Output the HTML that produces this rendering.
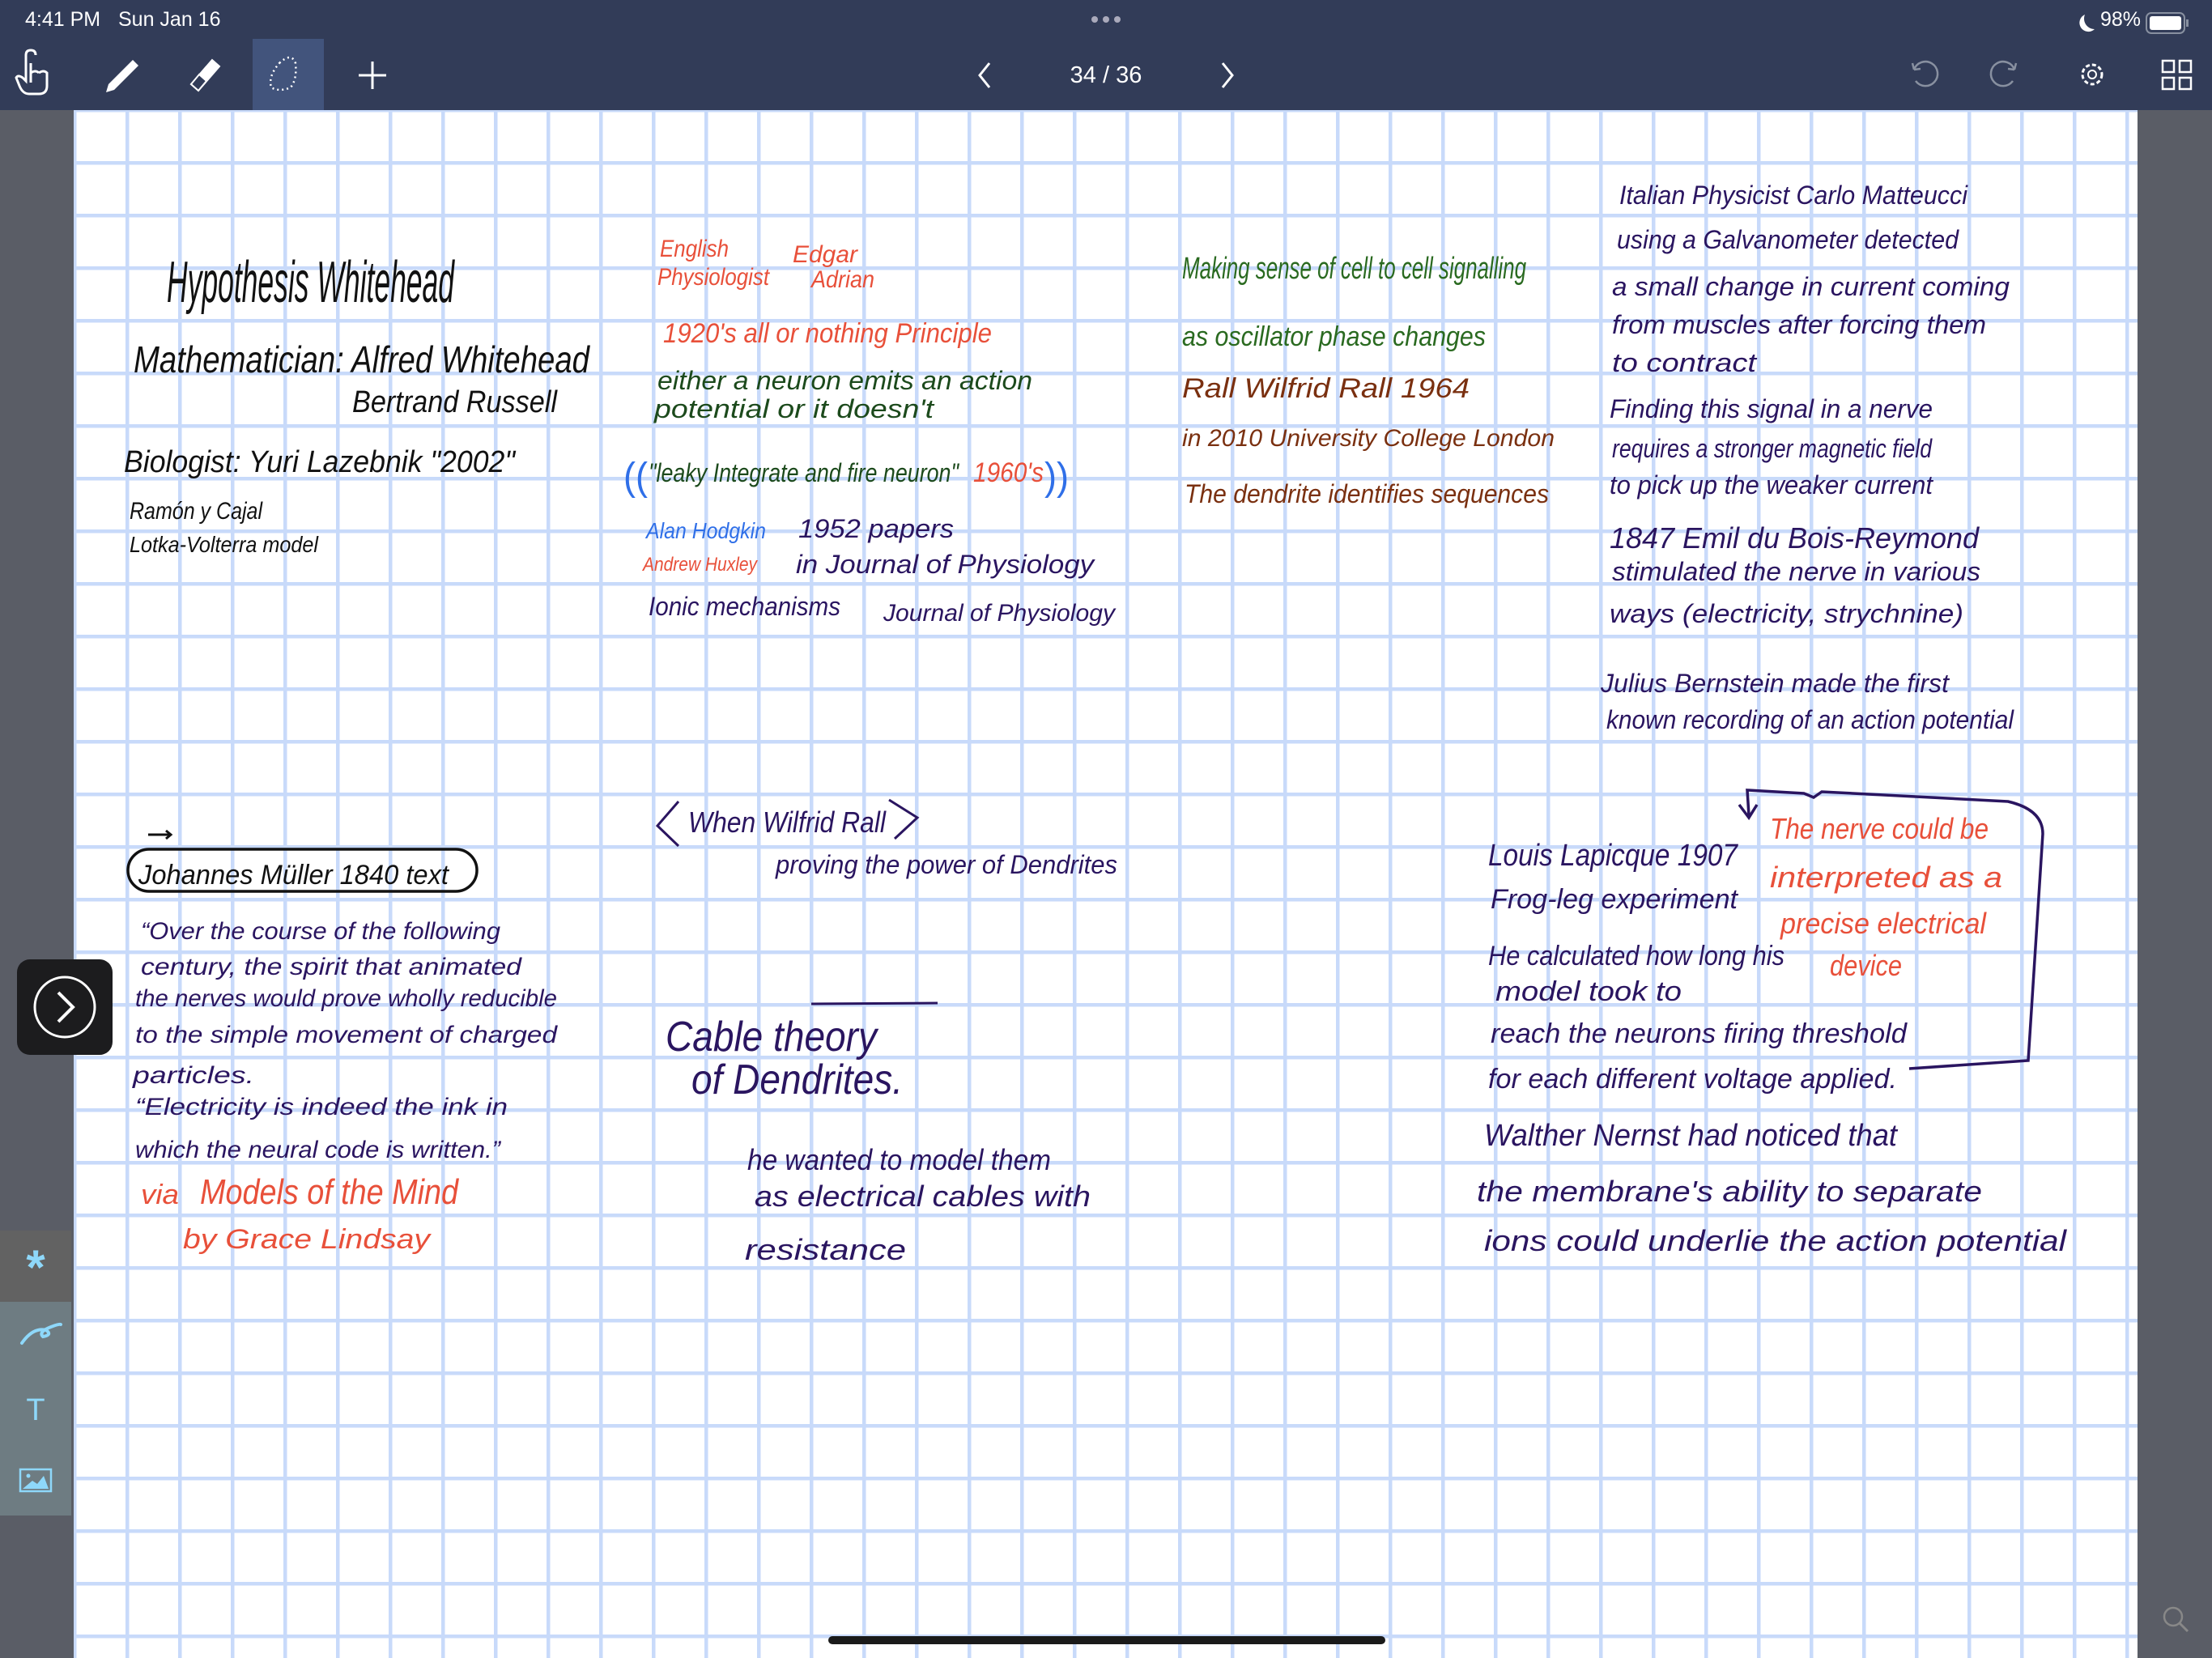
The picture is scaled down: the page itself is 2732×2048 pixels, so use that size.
<!DOCTYPE html>
<html><head><meta charset="utf-8"><style>
html,body{margin:0;padding:0;width:2732px;height:2048px;overflow:hidden;background:#5a5d66;}
svg{display:block}
text{font-family:"Liberation Sans","DejaVu Sans",sans-serif;}
</style></head><body>
<svg width="2732" height="2048" viewBox="0 0 2732 2048" xmlns="http://www.w3.org/2000/svg">
<defs>
<pattern id="g" x="157" y="201" width="65" height="65" patternUnits="userSpaceOnUse">
<rect x="0" y="0" width="65" height="65" fill="#fff"/>
<rect x="-2" y="0" width="4.5" height="65" fill="#c8dafa"/>
<rect x="0" y="-2" width="65" height="4.5" fill="#c8dafa"/>
<rect x="63" y="0" width="4" height="65" fill="#c8dafa"/>
<rect x="0" y="63" width="65" height="4" fill="#c8dafa"/>
</pattern>
</defs>
<rect x="0" y="0" width="2732" height="2048" fill="#5a5d66"/>
<rect x="91" y="136" width="2549" height="1912" fill="url(#g)"/>

<!-- top bar -->
<rect x="0" y="0" width="2732" height="136" fill="#323c58"/>
<rect x="312" y="48" width="88" height="88" fill="#42547c"/>
<text x="31" y="32" font-size="25" fill="#fff">4:41 PM</text>
<text x="146" y="32" font-size="25" fill="#fff">Sun Jan 16</text>
<circle cx="1352" cy="24" r="4" fill="#aab"/><circle cx="1366" cy="24" r="4" fill="#aab"/><circle cx="1380" cy="24" r="4" fill="#aab"/>
<path d="M2575 18 a11 11 0 1 0 12 18 a13 13 0 0 1 -12 -18z" fill="#fff"/>
<text x="2594" y="32" font-size="25" fill="#fff">98%</text>
<rect x="2651" y="16" width="47" height="25" rx="6" fill="none" stroke="#8890a0" stroke-width="2"/>
<rect x="2655" y="20" width="39" height="17" rx="3" fill="#fff"/>
<rect x="2700" y="24" width="3" height="9" fill="#8890a0"/>
<!-- hand -->
<path d="M38 78 v24 M38 90 q6 -4 10 0 M48 90 q6 -4 10 0 v16 q0 10 -10 10 h-12 q-8 0 -12 -10 l-4 -10 q2 -4 8 0 l4 4 v-32 q0 -6 6 -6 q6 0 6 6" fill="none" stroke="#fff" stroke-width="3"/>
<!-- pencil -->
<path d="M134 104 l30 -30 l7 7 l-30 30 l-10 3 z" fill="#fff"/>
<!-- eraser -->
<path d="M236 104 l26 -30 l9 8 l-26 30 z" fill="#fff" stroke="#fff" stroke-width="2"/>
<path d="M236 104 l10 -12 l9 8 l-10 12 z" fill="#323c58" stroke="#fff" stroke-width="2"/>
<!-- lasso -->
<path d="M345 78 q15 -14 20 0 q2 20 -6 30 q-14 6 -24 0 q-4 -14 10 -30" fill="none" stroke="#fff" stroke-width="2.5" stroke-dasharray="2 4"/>
<path d="M460 76 v34 M443 93 h34" stroke="#fff" stroke-width="3"/>
<path d="M1222 78 l-12 15 l12 15" fill="none" stroke="#fff" stroke-width="3"/>
<text x="1366" y="102" font-size="29" fill="#fff" text-anchor="middle">34 / 36</text>
<path d="M1510 78 l12 15 l-12 15" fill="none" stroke="#fff" stroke-width="3"/>
<path d="M2366 100 a15 15 0 1 0 -2 -14 M2364 86 l-2 -8 M2364 86 l8 -1" fill="none" stroke="#8890a0" stroke-width="2.5"/>
<path d="M2486 100 a15 15 0 1 1 2 -14 M2488 86 l2 -8 M2488 86 l-8 -1" fill="none" stroke="#8890a0" stroke-width="2.5"/>
<circle cx="2584" cy="92" r="12" fill="none" stroke="#fff" stroke-width="3" stroke-dasharray="5 3"/><circle cx="2584" cy="92" r="5" fill="none" stroke="#fff" stroke-width="2"/>
<rect x="2671" y="75" width="14" height="14" fill="none" stroke="#fff" stroke-width="2.5"/><rect x="2692" y="75" width="14" height="14" fill="none" stroke="#fff" stroke-width="2.5"/>
<rect x="2671" y="96" width="14" height="14" fill="none" stroke="#fff" stroke-width="2.5"/><rect x="2692" y="96" width="14" height="14" fill="none" stroke="#fff" stroke-width="2.5"/>

<!-- left side -->
<rect x="21" y="1185" width="118" height="118" rx="16" fill="#1c1c1e"/>
<circle cx="80" cy="1244" r="37" fill="none" stroke="#fff" stroke-width="3"/>
<path d="M72 1226 l18 18 l-18 18" fill="none" stroke="#fff" stroke-width="4"/>
<rect x="0" y="1520" width="88" height="352" fill="#6e7c82"/>
<rect x="0" y="1520" width="88" height="88" fill="#626262"/>
<text x="44" y="1586" font-size="60" fill="#8ed8fa" text-anchor="middle" font-weight="bold">*</text>
<path d="M27 1659 q14 -20 30 -16 q8 6 -4 8 q-6 -6 10 -12 q10 -4 12 -3" fill="none" stroke="#8ed8fa" stroke-width="4" stroke-linecap="round"/>
<text x="44" y="1754" font-size="38" fill="#8ed8fa" text-anchor="middle" font-family="Liberation Serif">T</text>
<rect x="25" y="1815" width="38" height="27" fill="none" stroke="#8ed8fa" stroke-width="2.5"/>
<path d="M28 1839 l12 -10 l6 4 l8 -10 l6 16z" fill="#8ed8fa"/><circle cx="35" cy="1823" r="2.5" fill="#8ed8fa"/>
<rect x="1023" y="2021" width="688" height="10" rx="5" fill="#1a1a1a"/>
<circle cx="2684" cy="1997" r="11" fill="none" stroke="#888" stroke-width="2.5"/><path d="M2692 2005 l10 10" stroke="#888" stroke-width="3"/>

<g lengthAdjust="spacingAndGlyphs">
<!-- col1 -->
<text x="206" y="373" font-size="72" textLength="355" lengthAdjust="spacingAndGlyphs" fill="#111" font-style="italic">Hypothesis Whitehead</text>
<text x="165" y="460" font-size="46" textLength="563" lengthAdjust="spacingAndGlyphs" fill="#111" font-style="italic">Mathematician: Alfred Whitehead</text>
<text x="435" y="509" font-size="38" textLength="253" lengthAdjust="spacingAndGlyphs" fill="#111" font-style="italic">Bertrand Russell</text>
<text x="153" y="583" font-size="38" textLength="483" lengthAdjust="spacingAndGlyphs" fill="#111" font-style="italic">Biologist: Yuri Lazebnik "2002"</text>
<text x="160" y="641" font-size="30" textLength="164" lengthAdjust="spacingAndGlyphs" fill="#111" font-style="italic">Ramón y Cajal</text>
<text x="160" y="682" font-size="28" textLength="233" lengthAdjust="spacingAndGlyphs" fill="#111" font-style="italic">Lotka-Volterra model</text>

<!-- col2 -->
<g fill="#e8503a" font-style="italic">
<text x="815" y="317" font-size="30" textLength="85" lengthAdjust="spacingAndGlyphs">English</text>
<text x="812" y="352" font-size="30" textLength="138" lengthAdjust="spacingAndGlyphs">Physiologist</text>
<text x="979" y="324" font-size="30" textLength="80" lengthAdjust="spacingAndGlyphs">Edgar</text>
<text x="1002" y="355" font-size="30" textLength="78" lengthAdjust="spacingAndGlyphs">Adrian</text>
<text x="819" y="423" font-size="34" textLength="406" lengthAdjust="spacingAndGlyphs">1920's  all or nothing Principle</text>
<text x="1202" y="595" font-size="34" textLength="87" lengthAdjust="spacingAndGlyphs">1960's</text>
<text x="794" y="705" font-size="24" textLength="141" lengthAdjust="spacingAndGlyphs">Andrew Huxley</text>
</g>
<g fill="#1c4a1c" font-style="italic">
<text x="812" y="481" font-size="32" textLength="463" lengthAdjust="spacingAndGlyphs">either a neuron emits an action</text>
<text x="808" y="516" font-size="32" textLength="345" lengthAdjust="spacingAndGlyphs">potential or it doesn't</text>
<text x="801" y="595" font-size="32" textLength="383" lengthAdjust="spacingAndGlyphs">"leaky Integrate and fire neuron"</text>
</g>
<text x="770" y="605" font-size="48" fill="#2f6fe8" textLength="30" lengthAdjust="spacingAndGlyphs">((</text>
<text x="1290" y="605" font-size="48" fill="#2f6fe8" textLength="30" lengthAdjust="spacingAndGlyphs">))</text>
<text x="798" y="665" font-size="28" fill="#2f6fe8" font-style="italic" textLength="148" lengthAdjust="spacingAndGlyphs">Alan Hodgkin</text>
<g fill="#2a1560" font-style="italic">
<text x="986" y="664" font-size="32" textLength="192" lengthAdjust="spacingAndGlyphs">1952  papers</text>
<text x="983" y="708" font-size="32" textLength="368" lengthAdjust="spacingAndGlyphs">in Journal of Physiology</text>
<text x="801" y="760" font-size="32" textLength="237" lengthAdjust="spacingAndGlyphs">Ionic mechanisms</text>
<text x="1091" y="767" font-size="30" textLength="286" lengthAdjust="spacingAndGlyphs">Journal of Physiology</text>
</g>

<!-- col3 -->
<g fill="#2a6a20" font-style="italic">
<text x="1460" y="344" font-size="38" textLength="425" lengthAdjust="spacingAndGlyphs">Making sense of cell to cell signalling</text>
<text x="1460" y="427" font-size="34" textLength="375" lengthAdjust="spacingAndGlyphs">as oscillator phase changes</text>
</g>
<g fill="#7a3010" font-style="italic">
<text x="1460" y="491" font-size="34" textLength="355" lengthAdjust="spacingAndGlyphs">Rall   Wilfrid Rall  1964</text>
<text x="1460" y="551" font-size="30" textLength="460" lengthAdjust="spacingAndGlyphs">in 2010 University College London</text>
<text x="1463" y="621" font-size="32" textLength="450" lengthAdjust="spacingAndGlyphs">The dendrite identifies sequences</text>
</g>

<!-- col4 -->
<g fill="#2a1560" font-style="italic" font-size="32">
<text x="2000" y="252" textLength="430" lengthAdjust="spacingAndGlyphs">Italian Physicist Carlo Matteucci</text>
<text x="1997" y="307" textLength="422" lengthAdjust="spacingAndGlyphs">using a Galvanometer detected</text>
<text x="1991" y="365" textLength="491" lengthAdjust="spacingAndGlyphs">a small change in current coming</text>
<text x="1991" y="412" textLength="462" lengthAdjust="spacingAndGlyphs">from muscles after forcing them</text>
<text x="1991" y="459" textLength="178" lengthAdjust="spacingAndGlyphs">to contract</text>
<text x="1988" y="516" textLength="399" lengthAdjust="spacingAndGlyphs">Finding this signal in a nerve</text>
<text x="1991" y="565" textLength="395" lengthAdjust="spacingAndGlyphs">requires a stronger magnetic field</text>
<text x="1988" y="610" textLength="399" lengthAdjust="spacingAndGlyphs">to pick up the weaker current</text>
<text x="1988" y="677" font-size="36" textLength="456" lengthAdjust="spacingAndGlyphs">1847 Emil du Bois-Reymond</text>
<text x="1991" y="717" textLength="455" lengthAdjust="spacingAndGlyphs">stimulated the nerve in various</text>
<text x="1988" y="769" textLength="437" lengthAdjust="spacingAndGlyphs">ways (electricity, strychnine)</text>
<text x="1977" y="855" textLength="430" lengthAdjust="spacingAndGlyphs">Julius Bernstein made the first</text>
<text x="1984" y="900" textLength="503" lengthAdjust="spacingAndGlyphs">known recording of an action potential</text>
</g>

<!-- lower col1 -->
<path d="M183 1031 h28 M205 1026 l6 5 l-6 5" stroke="#111" stroke-width="3" fill="none"/>
<rect x="158" y="1049" width="431" height="52" rx="26" fill="none" stroke="#111" stroke-width="3.5"/>
<text x="171" y="1092" font-size="34" textLength="383" lengthAdjust="spacingAndGlyphs" fill="#111" font-style="italic">Johannes Müller   1840 text</text>
<g fill="#2a1560" font-style="italic" font-size="30">
<text x="174" y="1160" textLength="444" lengthAdjust="spacingAndGlyphs">“Over the course of the following</text>
<text x="174" y="1204" textLength="470" lengthAdjust="spacingAndGlyphs">century, the spirit that animated</text>
<text x="167" y="1243" textLength="521" lengthAdjust="spacingAndGlyphs">the nerves would prove wholly reducible</text>
<text x="167" y="1288" textLength="521" lengthAdjust="spacingAndGlyphs">to the simple movement of charged</text>
<text x="164" y="1338" textLength="150" lengthAdjust="spacingAndGlyphs">particles.</text>
<text x="167" y="1377" textLength="460" lengthAdjust="spacingAndGlyphs">“Electricity is indeed the ink in</text>
<text x="167" y="1430" textLength="451" lengthAdjust="spacingAndGlyphs">which the neural code is written.”</text>
</g>
<g fill="#e8503a" font-style="italic">
<text x="174" y="1487" font-size="34" textLength="47" lengthAdjust="spacingAndGlyphs">via</text>
<text x="247" y="1487" font-size="44" textLength="319" lengthAdjust="spacingAndGlyphs">Models of the Mind</text>
<text x="226" y="1542" font-size="34" textLength="305" lengthAdjust="spacingAndGlyphs">by  Grace Lindsay</text>
</g>

<!-- lower col2 -->
<g fill="none" stroke="#2a1560" stroke-width="3">
<path d="M838 990 L812 1020 L838 1045"/>
<path d="M1098 988 L1133 1010 L1105 1036"/>
<path d="M1002 1240 L1158 1239"/>
</g>
<g fill="#2a1560" font-style="italic">
<text x="850" y="1028" font-size="36" textLength="244" lengthAdjust="spacingAndGlyphs">When Wilfrid Rall</text>
<text x="958" y="1079" font-size="32" textLength="422" lengthAdjust="spacingAndGlyphs">proving the power of Dendrites</text>
<text x="822" y="1298" font-size="52" textLength="261" lengthAdjust="spacingAndGlyphs">Cable theory</text>
<text x="854" y="1351" font-size="52" textLength="261" lengthAdjust="spacingAndGlyphs">of Dendrites.</text>
<text x="923" y="1445" font-size="36" textLength="375" lengthAdjust="spacingAndGlyphs">he wanted to model them</text>
<text x="932" y="1490" font-size="36" textLength="415" lengthAdjust="spacingAndGlyphs">as electrical cables with</text>
<text x="920" y="1556" font-size="36" textLength="199" lengthAdjust="spacingAndGlyphs">resistance</text>
</g>

<!-- lower col4 -->
<path d="M2160 1007 L2158 976 L2228 980 L2240 985 L2250 978 L2480 990 Q2523 1000 2523 1030 L2505 1310 L2358 1320" fill="none" stroke="#2a1560" stroke-width="3.5"/>
<path d="M2148 994 L2160 1010 L2170 994" fill="none" stroke="#2a1560" stroke-width="3.5"/>
<g fill="#2a1560" font-style="italic">
<text x="1838" y="1069" font-size="38" textLength="308" lengthAdjust="spacingAndGlyphs">Louis Lapicque 1907</text>
<text x="1841" y="1122" font-size="34" textLength="305" lengthAdjust="spacingAndGlyphs">Frog-leg experiment</text>
<text x="1838" y="1192" font-size="34" textLength="366" lengthAdjust="spacingAndGlyphs">He calculated how long his</text>
<text x="1847" y="1236" font-size="34" textLength="230" lengthAdjust="spacingAndGlyphs">model took to</text>
<text x="1841" y="1288" font-size="34" textLength="514" lengthAdjust="spacingAndGlyphs">reach the neurons firing threshold</text>
<text x="1838" y="1344" font-size="34" textLength="505" lengthAdjust="spacingAndGlyphs">for each different voltage applied.</text>
<text x="1833" y="1415" font-size="38" textLength="510" lengthAdjust="spacingAndGlyphs">Walther Nernst had noticed that</text>
<text x="1824" y="1484" font-size="36" textLength="624" lengthAdjust="spacingAndGlyphs">the membrane's ability to separate</text>
<text x="1833" y="1545" font-size="36" textLength="719" lengthAdjust="spacingAndGlyphs">ions could underlie the action potential</text>
</g>
<g fill="#e8503a" font-style="italic" font-size="36">
<text x="2186" y="1036" textLength="270" lengthAdjust="spacingAndGlyphs">The nerve could be</text>
<text x="2186" y="1096" textLength="287" lengthAdjust="spacingAndGlyphs">interpreted as a</text>
<text x="2199" y="1153" textLength="254" lengthAdjust="spacingAndGlyphs">precise electrical</text>
<text x="2260" y="1205" textLength="89" lengthAdjust="spacingAndGlyphs">device</text>
</g>
</g>
</svg>
</body></html>
